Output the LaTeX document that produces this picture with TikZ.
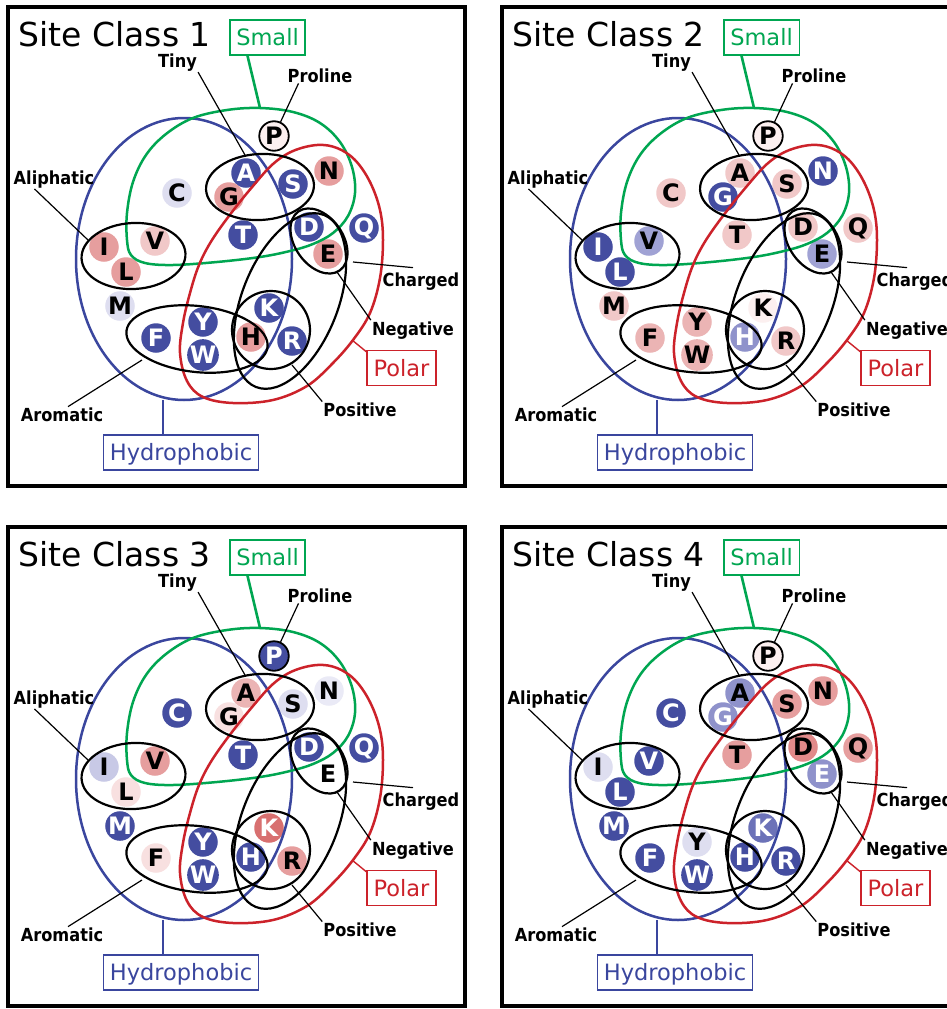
\documentclass[tikz,border=0pt]{standalone}
\usepackage{fontspec}
\setmainfont{DejaVu Sans}
\newfontfamily\labfont[FakeStretch=0.9]{DejaVu Sans}
\usetikzlibrary{calc}

\definecolor{cgreen}{RGB}{0,166,81}
\definecolor{cblue}{RGB}{58,70,158}
\definecolor{cred}{RGB}{204,34,42}
\definecolor{fb1}{RGB}{68,77,160}
\definecolor{fb2}{RGB}{108,114,184}
\definecolor{fb3}{RGB}{143,146,203}
\definecolor{fb4}{RGB}{160,162,212}
\definecolor{fb5}{RGB}{200,201,230}
\definecolor{fb6}{RGB}{222,222,240}
\definecolor{fb7}{RGB}{234,234,246}
\definecolor{fr1}{RGB}{216,112,112}
\definecolor{fr2}{RGB}{230,158,158}
\definecolor{fr2d}{RGB}{226,138,138}
\definecolor{fr2b}{RGB}{235,180,180}
\definecolor{fr3}{RGB}{241,200,200}
\definecolor{fr4}{RGB}{248,224,224}
\definecolor{fr5}{RGB}{252,240,240}

\tikzset{
  aa/.style={circle, inner sep=0pt, minimum size=29.5pt, text=black,
    font=\bfseries\fontsize{24}{24}\selectfont},
  b1/.style={fill=fb1,text=white},
  b2/.style={fill=fb2,text=white},
  b3/.style={fill=fb3,text=white},
  b3k/.style={fill=fb3,text=black},
  b4/.style={fill=fb4,text=black},
  b5/.style={fill=fb5,text=black},
  b6/.style={fill=fb6,text=black},
  b7/.style={fill=fb7,text=black},
  r1/.style={fill=fr1,text=white},
  r2/.style={fill=fr2,text=black},
  r2d/.style={fill=fr2d,text=black},
  r2b/.style={fill=fr2b,text=black},
  r3/.style={fill=fr3,text=black},
  r4/.style={fill=fr4,text=black},
  r5/.style={fill=fr5,text=black},
  nn/.style={text=black},
  lab/.style={inner sep=1pt, font=\labfont\bfseries\fontsize{18}{18}\selectfont},
  conn/.style={line width=1.2pt, black},
  venn/.style={line width=2.5pt},
  blk/.style={line width=2.2pt, black},
  frame/.style={line width=4pt, black},
  box/.style={draw, line width=1.5pt, inner xsep=6.5pt, inner ysep=0pt,
    minimum height=35pt, text height=16.4pt, text depth=0pt,
    font=\fontsize{22.5}{22.5}\selectfont},
}

\newcommand\aal[3]{\node[aa,s#1] (\pn#1) at (#2,#3) {#1};}

\newcommand\drawpanel[1]{%
  \def\pn{p#1}%
  \draw[frame] (7.7,7) rectangle (464.5,485.5);
  \node[anchor=base west, inner sep=0pt, font=\fontsize{33}{33}\selectfont]
    (\pn title) at (18.5,46.5) {Site Class #1};
  % amino acids
  \node[aa,sP,draw=black,line width=1.8pt] (\pn P) at (274,136) {P};
  \aal{A}{246}{173}
  \aal{G}{229}{197}
  \aal{S}{293}{184}
  \aal{N}{329}{171}
  \aal{C}{177}{193}
  \aal{T}{243}{235}
  \aal{D}{309}{227}
  \aal{Q}{364}{228}
  \aal{E}{328}{254}
  \aal{I}{104}{247}
  \aal{V}{155}{241}
  \aal{L}{126}{272}
  \aal{M}{120}{306}
  \aal{F}{156}{338}
  \aal{Y}{203}{322}
  \aal{W}{203}{355}
  \aal{H}{251}{337}
  \aal{K}{269}{308}
  \aal{R}{292}{341}
  % big sets
  \draw[venn,cblue] (184,259) ellipse [x radius=108pt, y radius=141pt];
  \draw[venn,cgreen] plot[smooth cycle, tension=0.6] coordinates {
    (127,240) (127,213) (133,182) (146,155) (166,134) (193,118) (227,110)
    (260,108) (293,112) (320,123) (340,142) (352,167) (355,193) (348,216)
    (333,233) (313,244) (290,251) (260,257) (217,262) (173,265) (145,263)
    (131,255)};
  \draw[venn,cred] plot[smooth cycle, tension=0.6] coordinates {
    (317,145) (337,148) (355,160) (370,182) (380,210) (383,240) (380,278)
    (370,313) (353,340) (332,364) (307,386) (273,400) (233,403) (203,397)
    (187,381) (180,353) (183,323) (190,293) (199,265) (212,240) (232,212)
    (253,186) (273,164) (293,151)};
  % subsets
  \draw[blk,rotate around={3:(260,187)}] (260,187) ellipse [x radius=54pt, y radius=33pt];
  \draw[blk,rotate around={3:(133.5,256)}] (133.5,256) ellipse [x radius=52pt, y radius=33pt];
  \draw[blk,rotate around={-6.5:(197,339)}] (197,339) ellipse [x radius=71pt, y radius=33pt];
  \draw[blk] (271,330) circle [radius=39pt];
  \draw[blk,rotate around={68.4:(290,301)}] (290,301) ellipse [x radius=92.5pt, y radius=48pt];
  \draw[blk,rotate around={-55:(319,241)}] (319,241) ellipse [x radius=36pt, y radius=24pt];
  % connector ends
  \coordinate (\pn smallE) at (260,108);
  \coordinate (\pn hydE) at (163,400);
  \coordinate (\pn polE) at (352,340);
  \coordinate (\pn tinyE) at (245,155);
  \coordinate (\pn aliE) at (88,240);
  \coordinate (\pn chgE) at (353,262);
  \coordinate (\pn negE) at (337,272);
  \coordinate (\pn posE) at (292,365);
  \coordinate (\pn aroE) at (142,360);
  % labels
  \node[lab,anchor=base] (\pn tiny) at (177.5,67) {Tiny};
  \node[lab,anchor=base] (\pn pro) at (320,82) {Proline};
  \node[lab,anchor=base] (\pn ali) at (54,184) {Aliphatic};
  \node[lab,anchor=base] (\pn chg) at (421,286.5) {Charged};
  \node[lab,anchor=base] (\pn neg) at (413,335) {Negative};
  \node[lab,anchor=base] (\pn pos) at (360,416.5) {Positive};
  \node[lab,anchor=base] (\pn aro) at (62,421.5) {Aromatic};
  \draw[conn] (\pn tiny.south east) -- (\pn tinyE);
  \draw[conn] ($(\pn pro.south west)+(12,0)$) -- (\pn P);
  \draw[conn] ($(\pn ali.south west)+(22,0)$) -- (\pn aliE);
  \draw[conn] (\pn chgE) -- ($(\pn chg.north)+(-8,-4)$);
  \draw[conn] (\pn negE) -- (\pn neg.north west);
  \draw[conn] (\pn posE) -- (\pn pos.north west);
  \draw[conn] (\pn aroE) -- ($(\pn aro.north)+(6,0)$);
  % boxes
  \node[box,draw=cgreen,text=cgreen] (\pn small) at (267.5,37.5) {Small};
  \node[box,draw=cblue,text=cblue] (\pn hyd) at (181,452.5) {Hydrophobic};
  \node[box,draw=cred,text=cred] (\pn pol) at (401.5,368) {Polar};
  \draw[line width=2.6pt,cgreen] ($(\pn small.south)+(-20,0)$) -- (\pn smallE);
  \draw[line width=2.6pt,cblue] (\pn hydE) -- ($(\pn hyd.north)+(-18,0)$);
  \draw[line width=1.4pt,cred] (\pn polE) -- ($(\pn pol.north west)+(0,2)$);
}

\begin{document}
\begin{tikzpicture}[x=1pt,y=-1pt]
\useasboundingbox (0,0) rectangle (947,1009);
\fill[white] (0,0) rectangle (947,1009);
\clip (0,0) rectangle (947,1009);

\begin{scope}[sP/.style=r5, sA/.style=b1, sG/.style=r2, sS/.style=b1, sN/.style=r2,
  sC/.style=b6, sD/.style=b1, sQ/.style=b1, sT/.style=b1, sE/.style=r2,
  sI/.style=r2, sV/.style=r3, sL/.style=r2, sM/.style=b6, sF/.style=b1,
  sY/.style=b1, sW/.style=b1, sH/.style=r2, sK/.style=b1, sR/.style=b1]
  \drawpanel{1}
\end{scope}

\begin{scope}[shift={(494,0)}, sP/.style=r5, sA/.style=r3, sG/.style=b1, sS/.style=r3, sN/.style=b1,
  sC/.style=r3, sD/.style=r3, sQ/.style=r3, sT/.style=r3, sE/.style=b4,
  sI/.style=b1, sV/.style=b4, sL/.style=b1, sM/.style=r3, sF/.style=r2b,
  sY/.style=r2b, sW/.style=r2b, sH/.style=b3, sK/.style=r5, sR/.style=r3]
  \drawpanel{2}
\end{scope}

\begin{scope}[shift={(0,520)}, sP/.style=b1, sA/.style=r2b, sG/.style=r4, sS/.style=b6, sN/.style=b7,
  sC/.style=b1, sD/.style=b1, sQ/.style=b1, sT/.style=b1, sE/.style=nn,
  sI/.style=b5, sV/.style=r2, sL/.style=r4, sM/.style=b1, sF/.style=r4,
  sY/.style=b1, sW/.style=b1, sH/.style=b1, sK/.style=r1, sR/.style=r2]
  \drawpanel{3}
\end{scope}

\begin{scope}[shift={(494,520)}, sP/.style=r5, sA/.style=b3k, sG/.style=b3, sS/.style=r2, sN/.style=r2,
  sC/.style=b1, sD/.style=r2d, sQ/.style=r2, sT/.style=r2, sE/.style=b3,
  sI/.style=b6, sV/.style=b1, sL/.style=b1, sM/.style=b1, sF/.style=b1,
  sY/.style=b6, sW/.style=b1, sH/.style=b1, sK/.style=b2, sR/.style=b1]
  \drawpanel{4}
\end{scope}
\end{tikzpicture}
\end{document}
